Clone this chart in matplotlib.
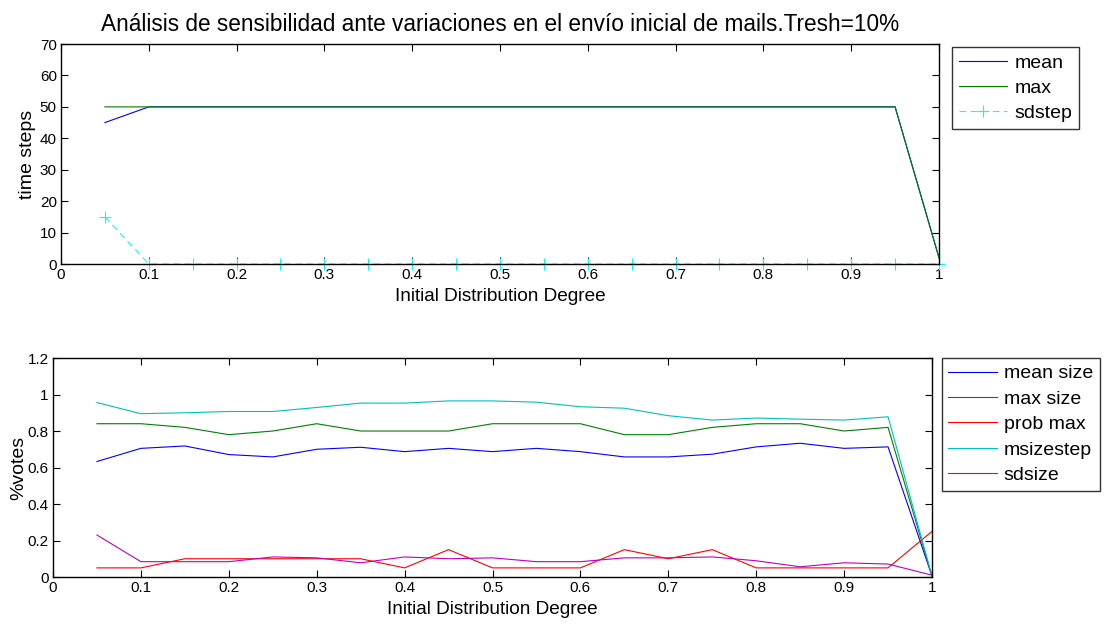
import numpy as np
import matplotlib
matplotlib.use("Agg")
import matplotlib.pyplot as plt

plt.rcParams['font.family'] = ['Liberation Sans', 'DejaVu Sans']

# grado de distribucion inicial
degree = [0.05, 0.10, 0.15, 0.20, 0.25, 0.30, 0.35, 0.40, 0.45, 0.50,
          0.55, 0.60, 0.65, 0.70, 0.75, 0.80, 0.85, 0.90, 0.95, 1.00]

# panel superior (time steps)
mean_steps = [45, 50, 50, 50, 50, 50, 50, 50, 50, 50,
              50, 50, 50, 50, 50, 50, 50, 50, 50, 2]
max_steps = [50, 50, 50, 50, 50, 50, 50, 50, 50, 50,
             50, 50, 50, 50, 50, 50, 50, 50, 50, 2]
sdstep = [15, 0, 0, 0, 0, 0, 0, 0, 0, 0,
          0, 0, 0, 0, 0, 0, 0, 0, 0, 0]

# panel inferior (%votes)
mean_size = [0.633, 0.705, 0.718, 0.671, 0.658, 0.700, 0.711, 0.687, 0.705, 0.687,
             0.705, 0.687, 0.658, 0.658, 0.673, 0.713, 0.733, 0.705, 0.713, 0.005]
max_size = [0.84, 0.84, 0.82, 0.78, 0.80, 0.84, 0.80, 0.80, 0.80, 0.84,
            0.84, 0.84, 0.78, 0.78, 0.82, 0.84, 0.84, 0.80, 0.82, 0.005]
prob_max = [0.05, 0.05, 0.10, 0.10, 0.10, 0.10, 0.10, 0.05, 0.15, 0.05,
            0.05, 0.05, 0.15, 0.10, 0.15, 0.05, 0.05, 0.05, 0.05, 0.25]
msizestep = [0.956, 0.895, 0.900, 0.907, 0.907, 0.929, 0.953, 0.953, 0.965, 0.965,
             0.958, 0.933, 0.925, 0.884, 0.860, 0.871, 0.865, 0.860, 0.878, 0.005]
sdsize = [0.230, 0.084, 0.084, 0.084, 0.110, 0.105, 0.078, 0.110, 0.100, 0.105,
          0.084, 0.084, 0.105, 0.105, 0.110, 0.089, 0.056, 0.078, 0.071, 0.010]

xticklabels = ['0', '0.1', '0.2', '0.3', '0.4', '0.5', '0.6', '0.7', '0.8', '0.9', '1']

fig = plt.figure(figsize=(11.09, 6.28), dpi=100)

def estilo(ax):
    ax.tick_params(direction='in', top=True, right=True, length=5, width=0.8,
                   labelsize=11, pad=3)
    for s in ax.spines.values():
        s.set_linewidth(1.0)

def leyenda(ax, x0, y0=1.0):
    leg = ax.legend(loc='upper left', bbox_to_anchor=(x0, y0), fontsize=14,
                    frameon=True, fancybox=False, edgecolor='black', handlelength=2.5,
                    borderaxespad=0, borderpad=0.35, labelspacing=0.4, handletextpad=0.35)
    leg.get_frame().set_linewidth(1.0)
    return leg

# arriba
ax1 = fig.add_axes([0.0550, 0.5796, 0.7917, 0.3503])
ax1.plot(degree, mean_steps, color=(0, 0, 1), lw=0.8, label='mean')
ax1.plot(degree, max_steps, color=(0, 0.5, 0), lw=0.8, label='max')
ax1.plot(degree, sdstep, color=(0, 1, 1), lw=0.8, ls=(0, (6, 4)), marker='+',
         ms=9, mew=0.8, label='sdstep', clip_on=False)
ax1.set_xlim(0, 1)
ax1.set_ylim(0, 70)
ax1.set_xticks(np.arange(0, 1.01, 0.1))
ax1.set_xticklabels(xticklabels)
ax1.set_yticks(np.arange(0, 71, 10))
ax1.set_xlabel('Initial Distribution Degree', fontsize=13.7, labelpad=4)
ax1.set_ylabel('time steps', fontsize=14, labelpad=3)
ax1.set_title('Análisis de sensibilidad ante variaciones en el envío inicial de mails.Tresh=10%',
              fontsize=16.3, pad=9.5)
estilo(ax1)
leyenda(ax1, 1.0148, 0.986)

# abajo
ax2 = fig.add_axes([0.0478, 0.0812, 0.7926, 0.3487])
ax2.plot(degree, mean_size, color=(0, 0, 1), lw=0.8, label='mean size')
ax2.plot(degree, max_size, color=(0, 0.5, 0), lw=0.8, label='max size')
ax2.plot(degree, prob_max, color=(1, 0, 0), lw=0.8, label='prob max')
ax2.plot(degree, msizestep, color=(0, 0.75, 0.75), lw=0.8, label='msizestep')
ax2.plot(degree, sdsize, color=(0.75, 0, 0.75), lw=0.8, label='sdsize')
ax2.set_xlim(0, 1)
ax2.set_ylim(0, 1.2)
ax2.set_xticks(np.arange(0, 1.01, 0.1))
ax2.set_xticklabels(xticklabels)
ax2.set_yticks(np.arange(0, 1.21, 0.2))
ax2.set_yticklabels(['0', '0.2', '0.4', '0.6', '0.8', '1', '1.2'])
ax2.set_xlabel('Initial Distribution Degree', fontsize=13.7, labelpad=4)
ax2.set_ylabel('%votes', fontsize=14, labelpad=0)
estilo(ax2)
leyenda(ax2, 1.011)

fig.savefig('out.png', dpi=100)
